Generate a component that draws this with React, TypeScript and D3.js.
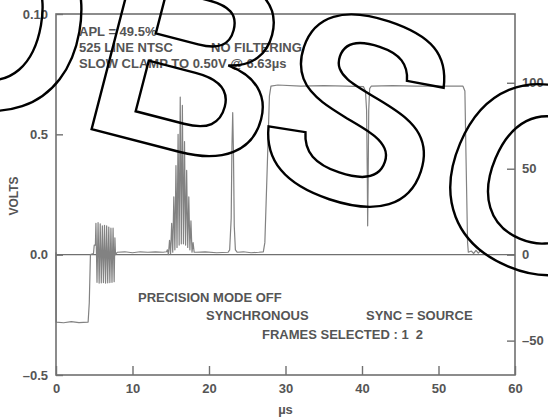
import { useEffect, useRef } from 'react';
import * as d3 from 'd3';

// waveform: time in µs, level in volts
const timeUs = [
	0, 0.02, 1.0, 2.0, 3.0, 4.2, 4.35, 4.5, 4.9, 5.0, 5.15,
	5.22, 5.36, 5.5, 5.64, 5.78, 5.92, 6.06, 6.2, 6.34, 6.48, 6.62, 6.76, 6.9, 7.04, 7.18, 7.32, 7.46, 7.6, 7.7, 7.78,
	8.0, 9.0, 10.0, 11.0, 12.0, 13.0, 14.0, 14.45,
	14.56, 14.7, 14.84, 14.98, 15.12, 15.26, 15.4, 15.54, 15.68, 15.82, 15.96, 16.1, 16.24, 16.38, 16.52, 16.66, 16.8,
	16.94, 17.08, 17.22, 17.36, 17.5, 17.64, 17.78, 17.92, 18.06,
	18.3, 19.5, 21.0, 22.5,
	22.7, 22.9, 23.0, 23.1, 23.2, 23.3, 23.45, 23.7,
	24.5, 25.5, 26.5, 27.1,
	27.3, 27.6, 27.9, 28.1, 29.0, 32.0, 35.0, 38.0, 40.2,
	40.45, 40.6, 40.7, 40.74, 40.8, 40.88, 41.0, 41.2,
	44.0, 47.0, 50.0, 53.2, 53.45, 53.6, 53.8, 53.9,
	54.3, 54.6, 54.9, 55.2, 55.5, 55.8, 56.3,
];
const volts = [
	0.01, -0.28, -0.283, -0.278, -0.282, -0.28, -0.2, 0.0, 0.005, 0.04, 0.04,
	0.13, -0.115, 0.133, -0.118, 0.128, -0.117, 0.12, -0.116, 0.122, -0.118, 0.12, -0.117, 0.115, -0.116, 0.11, -0.115, 0.11, -0.112, 0.07, 0.0,
	0.01, 0.012, 0.008, 0.012, 0.01, 0.012, 0.01, 0.012,
	0.02, 0.0, 0.06, 0.005, 0.13, 0.01, 0.24, 0.02, 0.37, 0.03, 0.5, 0.04, 0.655, 0.045, 0.62, 0.045, 0.47,
	0.04, 0.35, 0.03, 0.24, 0.02, 0.14, 0.01, 0.05, 0.01,
	0.01, 0.012, 0.008, 0.01,
	0.02, 0.15, 0.45, 0.59, 0.42, 0.12, 0.02, 0.01,
	0.012, 0.008, 0.01, 0.012,
	0.05, 0.35, 0.66, 0.7, 0.705, 0.7, 0.702, 0.7, 0.698,
	0.68, 0.6, 0.3, 0.12, 0.3, 0.6, 0.69, 0.7,
	0.702, 0.7, 0.7, 0.7, 0.68, 0.4, 0.05, 0.01,
	0.015, 0.005, 0.018, 0.006, 0.017, 0.01, 0.0,
];

const xTicks = [0, 10, 20, 30, 40, 50, 60];
const voltTicks = [-0.5, 0, 0.5, 1.0];
const voltTickLabels = ['\u20130.5', '0.0', '0.5', '0.10'];
const ireTicks = [-50, 0, 50, 100];
const ireTickLabels = ['\u201350', '0', '50', '100'];

const headerLines = ['APL = 49.5%', '525 LINE NTSC', 'SLOW CLAMP TO 0.50V @ 6.63\u00b5s'];
const footerLines = ['PRECISION MODE OFF', 'SYNCHRONOUS', 'FRAMES SELECTED : 1  2'];

// stamp letters and their nudges along the arc
const stampLetters = ['O', 'B', 'S', 'OLETE'];
const stampNudge = [0, 0, -14, 0];

const W = 548;
const H = 419;
const AXIS = '#707070';
const INK = '#555555';
const TRACE = '#828282';
const FONT = '"Liberation Sans", Arial, sans-serif';

export default function App() {
	const svgRef = useRef<SVGSVGElement>(null);

	useEffect(() => {
		if (!svgRef.current) return;
		const svg = d3.select(svgRef.current);
		svg.selectAll('*').remove();

		const margin = { top: 14, right: 33, bottom: 44, left: 56 };
		const x = d3.scaleLinear().domain([0, 60]).range([margin.left, W - margin.right]);
		const y = d3.scaleLinear().domain([-0.5, 1.0]).range([H - margin.bottom, margin.top]);
		// IRE units: 100 IRE = 0.714 V
		const ire = d3.scaleLinear().domain([-70, 140]).range([H - margin.bottom, margin.top]);

		svg.append('rect').attr('width', W).attr('height', H).attr('fill', '#fff');

		// zero line
		svg
			.append('line')
			.attr('x1', x(0))
			.attr('x2', x(60))
			.attr('y1', y(0))
			.attr('y2', y(0))
			.attr('stroke', AXIS)
			.attr('stroke-width', 1.3);

		// trace
		const pts = timeUs.map((t, i) => [t, volts[i]] as [number, number]);
		const line = d3
			.line<[number, number]>()
			.x((d) => x(d[0]))
			.y((d) => y(d[1]));
		svg
			.append('path')
			.datum(pts)
			.attr('fill', 'none')
			.attr('stroke', TRACE)
			.attr('stroke-width', 1.2)
			.attr('stroke-linejoin', 'round')
			.attr('d', line);

		// frame
		svg
			.append('rect')
			.attr('x', x(0))
			.attr('y', y(1))
			.attr('width', x(60) - x(0))
			.attr('height', y(-0.5) - y(1))
			.attr('fill', 'none')
			.attr('stroke', AXIS)
			.attr('stroke-width', 1.6);

		const styleAxis = (g: d3.Selection<SVGGElement, unknown, null, undefined>) => {
			g.select('.domain').remove();
			g.selectAll('line').attr('stroke', AXIS).attr('stroke-width', 1.4);
			g.selectAll('text')
				.attr('fill', INK)
				.style('font-family', FONT)
				.style('font-weight', 'bold')
				.style('font-size', '13px');
		};

		svg
			.append('g')
			.attr('transform', `translate(0,${y(-0.5)})`)
			.call(
				d3
					.axisBottom(x)
					.tickValues(xTicks)
					.tickSize(-9)
					.tickSizeOuter(0)
					.tickPadding(9)
					.tickFormat((d) => String(d))
			)
			.call(styleAxis);

		svg
			.append('g')
			.attr('transform', `translate(${x(0)},0)`)
			.call(
				d3
					.axisLeft(y)
					.tickValues(voltTicks)
					.tickSize(-7)
					.tickSizeOuter(0)
					.tickPadding(8)
					.tickFormat((_, i) => voltTickLabels[i])
			)
			.call(styleAxis);

		svg
			.append('g')
			.attr('transform', `translate(${x(60)},0)`)
			.call(
				d3
					.axisRight(ire)
					.tickValues(ireTicks)
					.tickSize(-8)
					.tickSizeOuter(0)
					.tickPadding(7)
					.tickFormat((_, i) => ireTickLabels[i])
			)
			.call(styleAxis);

		const txt = (s: string, tx: number, ty: number, anchor = 'start') =>
			svg
				.append('text')
				.attr('x', tx)
				.attr('y', ty)
				.attr('text-anchor', anchor)
				.attr('fill', INK)
				.style('font-family', FONT)
				.style('font-weight', 'bold')
				.style('font-size', '13px')
				.style('white-space', 'pre')
				.text(s);

		headerLines.forEach((s, i) => txt(s, 79, 36 + i * 16));
		txt('NO FILTERING', 211, 52);
		txt(footerLines[0], 138, 302);
		txt(footerLines[1], 206, 320);
		txt('SYNC = SOURCE', 366, 320);
		txt(footerLines[2], 262, 339);

		txt('\u00b5s', (x(0) + x(60)) / 2, 414, 'middle');
		svg
			.append('text')
			.attr('transform', `translate(18,196) rotate(-90)`)
			.attr('text-anchor', 'middle')
			.attr('fill', INK)
			.style('font-family', FONT)
			.style('font-weight', 'bold')
			.style('font-size', '12px')
			.text('VOLTS');

		// outlined stamp lettering laid on a wide arc
		const R = 2500;
		const cx = -459;
		const cy = 2569;
		const arc = d3.path();
		arc.arc(cx, cy, R, -0.1 - Math.PI / 2, 0.6 - Math.PI / 2, false);
		svg
			.append('defs')
			.append('path')
			.attr('id', 'stampArc')
			.attr('d', arc.toString());
		const tp = svg
			.append('text')
			.attr('fill', 'none')
			.attr('stroke', '#000')
			.attr('stroke-width', 2.4)
			.style('font-family', FONT)
			.style('font-weight', 'bold')
			.style('font-size', '265px')
			.append('textPath')
			.attr('href', '#stampArc')
			.attr('startOffset', 581);
		stampLetters.forEach((s, i) => {
			tp.append('tspan').attr('dx', stampNudge[i]).text(s);
		});
	}, []);

	return (
		<div style={{ position: 'absolute', left: 0, top: 0 }}>
			<svg ref={svgRef} width={W} height={H} style={{ display: 'block' }} />
		</div>
	);
}
